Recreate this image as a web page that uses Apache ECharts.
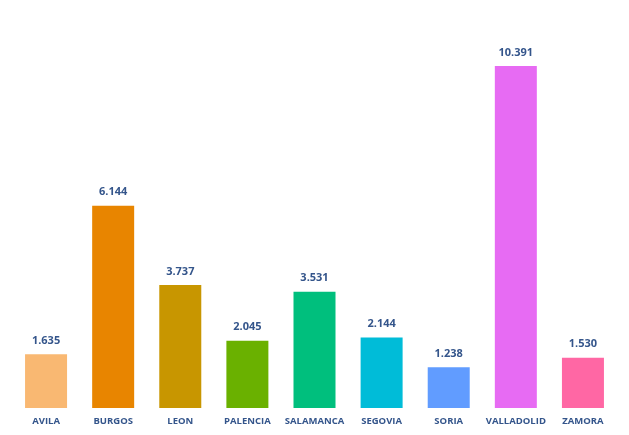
<!DOCTYPE html>
<html><head><meta charset="utf-8">
<script src="https://cdn.jsdelivr.net/npm/echarts@6/dist/echarts.min.js"></script>
<style>html,body{margin:0;padding:0;background:#fff}#c{width:629px;height:435px}</style>
</head><body><div id="c"></div>
<script>
const categories = ["AVILA","BURGOS","LEON","PALENCIA","SALAMANCA","SEGOVIA","SORIA","VALLADOLID","ZAMORA"];
const values = [1635, 6144, 3737, 2045, 3531, 2144, 1238, 10391, 1530];
const colors = ["#F9B872","#E88500","#C89600","#6AB100","#00BF7D","#00BCD8","#619CFF","#E76BF3","#FF67A4"];
const fmt = v => String(v).replace(/\B(?=(\d{3})+(?!\d))/g, ".");
const chart = echarts.init(document.getElementById('c'));
chart.setOption({
  animation:false,
  grid:{left:12.5,right:12.5,top:13,bottom:27,containLabel:false},
  xAxis:{type:'category',data:categories,axisLine:{show:false},axisTick:{show:false},
    axisLabel:{color:'#34558B',fontFamily:'Open Sans',fontSize:9.5,fontWeight:'bold',margin:8,interval:0}},
  yAxis:{type:'value',min:0,max:12000,show:false,splitLine:{show:false}},
  series:[{type:'bar',barWidth:42,
    data:values.map((v,i)=>({value:v,itemStyle:{color:colors[i]}})),
    label:{show:true,position:'top',distance:8,color:'#34558B',fontFamily:'Open Sans',fontSize:11,fontWeight:'bold',
      formatter:p=>fmt(p.value)}}]
});
</script></body></html>
